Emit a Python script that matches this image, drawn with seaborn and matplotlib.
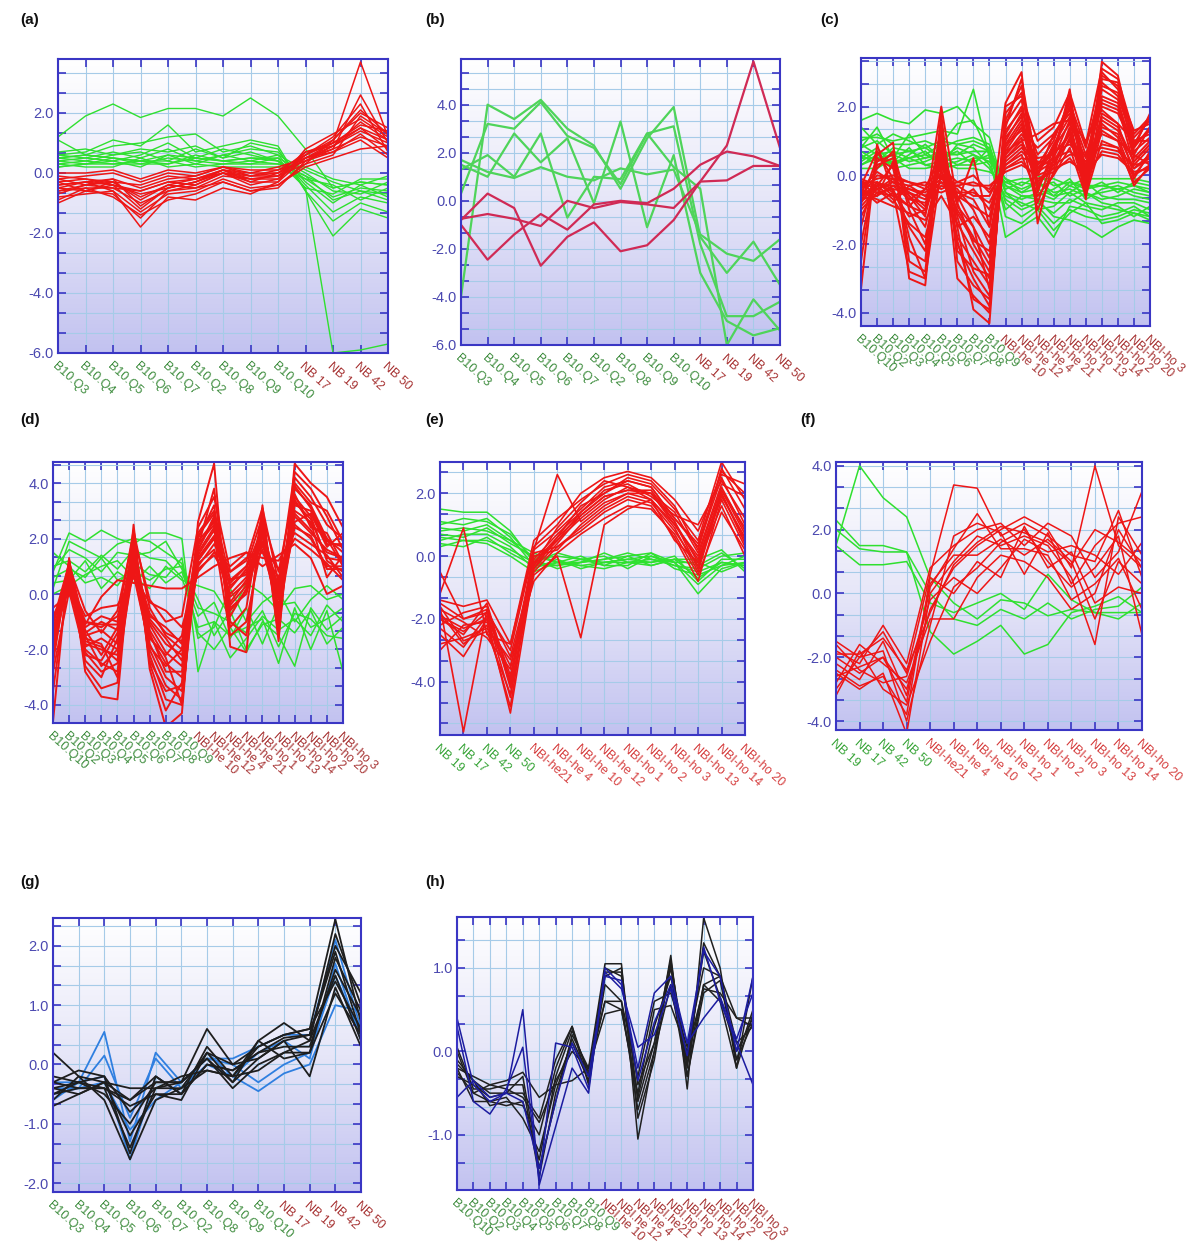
import numpy as np
import pandas as pd
import matplotlib
matplotlib.use('Agg')
import matplotlib.pyplot as plt
from matplotlib.ticker import MultipleLocator, FormatStrFormatter
from matplotlib.colors import LinearSegmentedColormap
import seaborn as sns

sns.set_theme(style='white')
plt.rcParams['font.family'] = ['Liberation Sans', 'DejaVu Sans']

# ---------------- categories ----------------
CATS_13 = ['B10.Q3', 'B10.Q4', 'B10.Q5', 'B10.Q6', 'B10.Q7', 'B10.Q2', 'B10.Q8',
           'B10.Q9', 'B10.Q10', 'NB 17', 'NB 19', 'NB 42', 'NB 50']
CATS_19 = ['B10.Q10', 'B10.Q2', 'B10.Q3', 'B10.Q4', 'B10.Q5', 'B10.Q6', 'B10.Q7',
           'B10.Q8', 'B10.Q9', 'NBI-he 10', 'NBI-he 12', 'NBI-he 4', 'NBI-he 21',
           'NBI-ho 1', 'NBI-ho 13', 'NBI-ho 14', 'NBI-ho 2', 'NBI-ho 20', 'NBI-ho 3']
CATS_19H = ['B10.Q10', 'B10.Q2', 'B10.Q3', 'B10.Q4', 'B10.Q5', 'B10.Q6', 'B10.Q7',
            'B10.Q8', 'B10.Q9', 'NBI.he 10', 'NBI.he 12', 'NBI.he 4', 'NBI.he21',
            'NBI.ho 1', 'NBI.ho 13', 'NBI.ho 14', 'NBI.ho 2', 'NBI.ho 20', 'NBI.ho 3']
CATS_14 = ['NB 19', 'NB 17', 'NB 42', 'NB 50', 'NBI-he21', 'NBI-he 4', 'NBI-he 10',
           'NBI-he 12', 'NBI-ho 1', 'NBI-ho 2', 'NBI-ho 3', 'NBI-ho 13', 'NBI-ho 14',
           'NBI-ho 20']

# ---------------- panel (a) ----------------
A_GREEN = [
    [1.2, 1.9, 2.3, 1.85, 2.15, 2.15, 1.9, 2.5, 1.9, 0.8, -0.5, -0.3, -0.4],
    [1.1, 0.6, 0.5, 0.4, 0.6, 0.5, 0.4, 0.5, 0.5, -0.5, -6.0, -5.9, -5.7],
    [0.6, 0.7, 1.1, 0.9, 1.6, 0.7, 0.9, 1.1, 0.9, -0.6, -2.1, -1.2, -1.5],
    [0.5, 0.6, 0.9, 1.0, 1.2, 1.3, 0.7, 0.9, 0.6, -0.4, -1.3, -0.8, -1.0],
    [0.4, 0.5, 0.4, 0.6, 1.0, 0.5, 0.8, 0.6, 0.4, -0.2, -0.8, -0.5, -0.6],
    [0.3, 0.4, 0.3, 0.3, 0.5, 0.4, 0.3, 0.4, 0.3, -0.1, -0.5, -0.3, -0.4],
    [0.2, 0.3, 0.5, 0.4, 0.3, 0.6, 0.4, 0.3, 0.5, 0.0, -0.6, -0.7, -0.3],
    [0.6, 0.5, 0.7, 0.5, 0.8, 0.4, 0.6, 0.8, 0.7, -0.3, -1.0, -0.4, -0.8],
    [0.3, 0.2, 0.2, 0.5, 0.2, 0.3, 0.2, 0.2, 0.2, -0.2, -0.4, -0.9, -0.5],
    [0.5, 0.4, 0.6, 0.7, 0.4, 0.8, 0.5, 0.7, 0.4, -0.5, -0.7, -0.2, -0.2],
    [0.4, 0.3, 0.4, 0.2, 0.6, 0.3, 0.6, 0.4, 0.6, 0.1, -0.3, -0.6, -0.9],
    [0.7, 0.8, 0.6, 0.8, 0.7, 0.9, 0.5, 1.0, 0.8, -0.6, -1.6, -1.0, -1.3],
    [0.2, 0.3, 0.3, 0.4, 0.4, 0.2, 0.3, 0.3, 0.3, 0.2, -0.2, -0.4, -0.1],
    [0.5, 0.6, 0.5, 0.3, 0.3, 0.5, 0.4, 0.5, 0.4, -0.1, -0.9, -0.6, -0.7],
]
A_RED = [
    [-0.5, -0.3, -0.6, -1.8, -0.8, -0.9, -0.5, -0.7, -0.3, 0.5, 1.0, 3.7, 1.2],
    [-1.0, -0.6, -0.7, -1.5, -0.6, -0.5, -0.3, -0.6, -0.5, 0.4, 0.8, 2.6, 1.0],
    [-0.3, -0.2, -0.4, -1.2, -0.5, -0.3, 0.0, -0.2, -0.1, 0.6, 1.1, 2.0, 1.5],
    [-0.2, -0.4, -0.3, -0.9, -0.4, -0.2, 0.1, -0.1, 0.0, 0.5, 0.9, 1.7, 1.1],
    [-0.6, -0.5, -0.5, -0.6, -0.3, -0.4, 0.0, -0.4, -0.2, 0.7, 1.0, 1.5, 0.8],
    [-0.4, -0.3, -0.2, -0.5, -0.2, -0.1, 0.2, -0.1, 0.1, 0.4, 0.7, 1.3, 0.6],
    [0.0, 0.0, 0.1, -0.2, 0.1, 0.0, 0.2, 0.0, 0.2, 0.5, 0.8, 1.2, 0.9],
    [-0.8, -0.7, -0.6, -1.3, -0.7, -0.6, -0.2, -0.5, -0.4, 0.3, 0.6, 1.9, 1.3],
    [-0.3, -0.6, -0.4, -0.7, -0.5, -0.3, 0.1, -0.2, -0.1, 0.6, 1.2, 2.3, 0.7],
    [-0.1, -0.2, -0.3, -0.4, -0.1, -0.2, 0.1, 0.0, 0.0, 0.4, 0.9, 1.4, 1.0],
    [-0.7, -0.4, -0.5, -1.0, -0.6, -0.4, 0.0, -0.3, -0.3, 0.8, 1.3, 1.8, 1.2],
    [-0.5, -0.6, -0.3, -0.8, -0.4, -0.5, -0.1, -0.2, -0.2, 0.5, 0.7, 1.1, 0.5],
    [-0.2, -0.1, 0.0, -0.3, 0.0, -0.1, 0.2, 0.1, 0.1, 0.6, 1.0, 1.6, 1.4],
    [-0.9, -0.5, -0.8, -1.4, -0.9, -0.7, -0.3, -0.6, -0.4, 0.2, 0.5, 0.8, 0.9],
    [-0.4, -0.3, -0.4, -0.6, -0.3, -0.2, 0.0, -0.1, -0.1, 0.3, 1.1, 2.1, 1.3],
    [-0.6, -0.4, -0.2, -1.1, -0.5, -0.3, 0.1, -0.3, 0.0, 0.7, 0.9, 1.5, 1.1],
]

# ---------------- panel (b) ----------------
B_GREEN = [
    [1.7, 1.2, 0.95, 1.4, 1.0, 0.85, 1.35, 1.1, 1.3, -1.4, -2.2, -2.5, -1.6],
    [-4.0, 4.0, 3.4, 4.2, 3.0, 2.3, 0.5, 2.6, 3.9, -1.5, -3.0, -1.7, -3.5],
    [0.3, 3.2, 3.0, 4.1, 2.7, 2.2, 0.7, 2.8, 3.1, -1.8, -4.8, -4.8, -4.2],
    [1.5, 1.0, 2.8, 1.6, 2.6, -0.1, 3.3, -1.1, 1.9, -3.0, -5.0, -5.6, -5.3],
    [1.3, 1.9, 1.0, 2.8, -0.7, 1.0, 0.9, 2.8, 1.4, 0.5, -6.0, -4.1, -5.4],
]
B_RED = [
    [-0.8, 0.3, -0.3, -2.7, -1.5, -0.9, -2.1, -1.85, -0.8, 0.8, 2.3, 5.8, 2.2],
    [-1.0, -2.45, -1.4, -0.55, -1.2, -0.15, 0.0, -0.1, 0.5, 1.5, 2.05, 1.85, 1.45],
    [-0.75, -0.55, -0.75, -1.05, 0.0, -0.3, -0.05, -0.15, -0.3, 0.8, 0.85, 1.45, 1.45],
]

# ---------------- panel (c) ----------------
C_GREEN = [
    [1.6, 1.8, 1.6, 1.5, 1.9, 1.8, 2.0, 1.5, 1.1, -0.5, -0.9, -0.7, -1.2, -1.3, -1.5, -1.8, -1.5, -1.3, -1.4],
    [1.1, 1.1, 1.0, 1.1, 1.2, 1.3, 1.2, 2.5, 0.5, -0.3, -0.5, -0.4, -0.6, -0.5, -0.8, -0.9, -1.0, -1.1, -1.3],
    [0.8, 1.4, 0.5, 1.2, 0.6, 0.9, 1.5, 1.6, 0.6, -1.8, -1.5, -1.2, -1.8, -0.9, -1.0, -1.2, -1.1, -0.9, -1.2],
    [0.5, 0.8, 0.3, 0.6, 0.9, 0.5, 0.8, 0.6, 0.4, -0.2, -0.4, -0.2, -0.5, -0.4, -0.6, -0.5, -0.4, -0.6, -0.7],
    [0.3, 0.5, 0.6, 0.4, 0.5, 0.7, 0.6, 0.9, 0.7, -0.5, -0.7, -0.5, -0.7, -0.3, -0.5, -0.7, -0.6, -0.4, -0.5],
    [0.6, 0.3, 0.4, 0.8, 0.3, 0.4, 0.5, 0.4, 0.6, -0.1, -0.3, 0.0, -0.3, -0.2, -0.3, -0.3, -0.2, -0.3, -0.4],
    [0.9, 0.6, 0.7, 0.5, 0.7, 0.3, 0.9, 0.8, 0.3, -0.7, -1.0, -0.8, -1.1, -0.7, -0.9, -1.0, -0.8, -0.8, -1.0],
    [0.4, 0.7, 0.2, 0.3, 0.4, 0.6, 0.3, 0.5, 0.5, -0.4, -0.2, -0.3, -0.2, -0.6, -0.4, -0.2, -0.5, -0.2, -0.3],
    [0.7, 0.4, 0.8, 0.7, 0.8, 0.5, 0.7, 0.3, 0.8, -0.3, -0.6, -0.6, -0.4, -0.1, -0.7, -0.4, -0.3, -0.5, -0.6],
    [0.2, 0.2, 0.5, 0.2, 0.2, 0.3, 0.4, 0.6, 0.2, -0.6, -0.8, -1.0, -0.9, -0.5, -0.2, -0.6, -0.7, -0.7, -0.8],
    [1.0, 1.2, 0.9, 0.9, 1.0, 0.8, 1.0, 1.1, 0.9, -0.8, -1.2, -0.9, -1.4, -1.0, -1.2, -1.3, -1.2, -1.0, -1.1],
    [0.5, 0.5, 0.4, 0.5, 0.6, 0.4, 0.2, 0.2, 0.1, -0.2, -0.1, -0.1, -0.1, -0.3, -0.1, -0.1, -0.1, -0.1, -0.2],
    [0.8, 1.0, 0.6, 0.7, 0.5, 0.6, 0.6, 0.7, 0.7, -1.0, -0.6, -0.7, -0.8, -0.8, -0.5, -0.8, -0.9, -1.2, -0.9],
    [0.3, 0.6, 0.3, 0.5, 0.3, 0.2, 0.3, 0.3, 0.4, -0.1, -0.5, -0.2, -0.6, -0.2, -0.4, -0.3, -0.4, -0.3, -0.5],
    [1.4, 0.9, 1.2, 1.0, 0.8, 1.0, 0.9, 1.0, 0.8, -1.2, -1.4, -1.0, -1.6, -1.1, -0.8, -1.4, -1.3, -1.1, -1.2],
]
C_RED = [
    [-3.3, 0.9, -0.5, -1.2, -1.0, 2.0, -0.8, 0.5, -1.5, 2.1, 3.0, -1.4, 0.5, 2.5, -0.7, 3.3, 2.9, 0.8, 1.8],
    [-2.5, 0.6, 0.95, -3.0, -3.2, 1.5, -1.5, -3.9, -4.3, 1.8, 2.4, 0.3, 1.0, 2.2, 0.2, 3.0, 2.5, 1.3, 1.5],
    [-1.5, 0.3, 0.5, -2.5, -2.8, 1.2, -3.0, -3.5, -4.0, 1.5, 2.2, -0.5, 0.8, 2.0, -0.3, 2.8, 2.7, 1.0, 1.2],
    [-0.8, 0.5, 0.2, -1.8, -3.0, 1.0, -2.0, -3.0, -3.8, 1.2, 2.0, 0.0, 1.2, 1.8, 0.0, 2.5, 2.2, 0.5, 1.0],
    [-0.5, 0.2, 0.7, -1.0, -2.0, 0.8, -1.2, -2.8, -3.5, 1.0, 1.8, -0.8, 0.5, 1.6, -0.5, 2.2, 2.0, 0.3, 0.8],
    [-0.6, -0.3, 0.3, -0.8, -1.5, 0.5, -1.8, -2.5, -3.2, 0.9, 1.6, 0.2, 0.8, 1.5, 0.5, 2.0, 1.8, 0.8, 1.4],
    [-0.4, 0.1, -0.2, -0.6, -1.0, 0.3, -0.8, -2.0, -2.8, 0.7, 1.4, -0.3, 0.3, 1.3, -0.2, 1.8, 1.5, 0.0, 0.6],
    [-0.3, -0.5, -0.4, -0.5, -0.7, 0.1, -0.6, -1.5, -2.4, 0.6, 1.2, 0.5, 0.6, 1.2, 0.3, 1.6, 1.3, 0.4, 0.9],
    [-0.2, -0.2, -0.6, -0.4, -0.5, -0.1, -0.4, -1.0, -2.0, 0.5, 1.0, 0.1, 0.4, 1.0, 0.1, 1.4, 1.2, 0.2, 0.5],
    [-0.7, -0.6, -0.3, -0.7, -0.8, -0.3, -0.5, -0.7, -1.5, 0.8, 1.5, -0.2, 0.2, 1.4, -0.4, 1.5, 1.1, -0.1, 0.7],
    [-0.9, -0.4, -0.8, -0.3, -0.6, -0.2, -0.7, -0.4, -1.0, 0.4, 0.8, 0.3, 0.7, 0.9, 0.4, 1.2, 1.0, 0.6, 0.3],
    [-0.4, -0.8, -0.5, -0.9, -0.4, -0.5, -0.3, -0.6, -0.6, 0.3, 0.6, -0.6, 0.0, 0.8, -0.6, 1.0, 0.8, -0.2, 0.2],
    [-1.2, -0.3, -0.7, -1.4, -1.8, 0.0, -1.0, -1.8, -2.6, 1.1, 1.7, 0.0, 0.9, 1.7, 0.2, 2.3, 2.1, 0.7, 1.1],
    [-0.3, -0.1, 0.0, -0.2, -0.3, 0.2, -0.2, 0.0, -0.5, 0.2, 0.5, 0.4, 0.3, 0.6, 0.6, 0.8, 0.7, 0.3, 0.4],
    [-0.5, -0.7, -0.9, -1.1, -1.3, -0.6, -1.4, -2.2, -3.0, 1.3, 1.9, 0.6, 1.1, 2.1, 0.8, 2.6, 2.4, 1.1, 1.6],
    [-2.0, 0.4, 0.6, -2.2, -2.5, 1.8, -2.5, -3.2, -3.6, 2.0, 2.3, 1.0, 1.4, 2.4, 0.9, 3.1, 2.8, 1.2, 1.7],
    [-0.6, 0.0, -0.1, -0.5, -0.9, 0.6, -1.5, -1.2, -1.8, 0.6, 1.1, -1.0, 0.1, 1.1, -0.5, 1.3, 1.0, -0.3, 0.3],
    [-0.2, -0.4, -0.2, -0.3, -0.2, -0.4, -0.2, -0.3, -0.3, 0.1, 0.3, 0.0, 0.2, 0.4, 0.1, 0.6, 0.5, 0.1, 0.2],
    [-0.8, -0.2, -0.4, -1.5, -2.2, 0.9, -0.9, -1.5, -3.3, 0.9, 1.3, 0.8, 1.2, 1.9, 0.6, 2.1, 1.9, 0.9, 1.3],
    [-0.4, -0.6, 0.4, -0.6, -1.2, 1.4, -2.2, -2.7, -2.9, 1.6, 2.6, -0.4, 0.6, 2.2, -0.1, 2.9, 2.6, 0.6, 1.4],
    [-0.1, -0.3, -0.3, -0.4, -0.6, -0.2, -0.3, -0.2, -0.4, 0.3, 0.7, 0.2, 0.5, 0.7, 0.3, 0.9, 0.8, 0.2, 0.6],
    [-1.0, -0.5, -0.6, -0.9, -1.1, 0.4, -1.1, -1.9, -2.2, 0.7, 1.0, 1.2, 1.5, 1.6, 1.0, 1.9, 1.5, 1.0, 1.0],
    [-0.3, 0.7, -0.1, -0.7, -0.4, 0.7, -0.6, -0.9, -1.2, 0.5, 0.9, -0.2, 0.4, 1.2, -0.3, 1.7, 1.4, 0.4, 0.9],
    [-0.7, -0.2, -0.5, -2.8, -3.0, 0.2, -1.9, -3.6, -3.9, 1.4, 2.8, 0.1, 0.7, 2.3, 0.0, 2.7, 2.3, 0.9, 1.7],
    [-0.5, -0.4, -0.1, -0.2, -0.4, 0.0, -0.5, -0.5, -0.8, 0.2, 0.4, -0.1, 0.1, 0.5, -0.1, 0.7, 0.6, 0.0, 0.3],
]

# ---------------- panel (d) ----------------
D_GREEN = [
    [0.8, 2.2, 1.9, 2.3, 2.0, 1.8, 2.2, 2.2, 2.0, -2.8, -1.0, -1.5, -1.2, -0.9, -2.5, -0.5, -2.0, -0.6, -2.8],
    [0.2, 1.9, 1.6, 1.3, 1.8, 2.0, 1.9, 1.5, 1.1, -1.4, -2.0, -1.2, -2.1, -1.0, -1.5, -2.6, -0.5, -1.3, -0.8],
    [1.0, 1.2, 0.8, 1.4, 0.9, 1.6, 1.3, 1.2, 0.6, -1.2, -1.0, -2.3, -1.6, -0.8, -1.3, -0.9, -1.5, -0.4, -1.0],
    [0.6, 0.9, 0.6, 1.3, 0.5, 0.8, 0.5, 0.9, 1.0, -0.2, -1.5, -0.6, -2.0, -1.1, -0.9, -1.4, -0.6, -1.8, -1.2],
    [0.4, 0.5, 1.2, 0.2, 0.8, 0.4, 1.0, 0.4, 0.8, -0.8, -0.3, -1.6, -0.5, -1.8, -0.4, -0.3, -1.2, -0.9, -0.5],
    [1.5, 1.0, 0.4, 0.6, 0.3, 1.1, 0.7, 0.6, 1.3, -1.6, -1.2, 0.2, -1.0, -0.3, 0.1, -1.0, -0.2, 0.3, -0.2],
    [0.0, 0.3, 0.7, 1.0, 1.2, 0.6, 0.2, 1.0, 0.5, 0.3, 0.1, -0.8, 0.4, 0.0, -0.6, 0.2, 0.3, -0.2, 0.0],
    [0.9, 1.6, 1.3, 0.8, 1.5, 1.4, 1.5, 1.9, 0.9, -0.5, -0.7, -1.0, -1.4, -0.6, -1.9, -0.7, -0.9, -1.5, -1.6],
]
D_RED = [
    [-4.6, 1.3, -2.8, -3.7, -3.8, 2.5, -2.7, -4.8, -4.3, 2.6, 4.7, -1.9, -2.1, 3.2, -1.7, 4.7, 4.0, 3.5, 2.4],
    [-1.0, 1.1, -1.2, -0.8, -1.0, 2.3, -0.5, -1.5, -2.0, 2.2, 3.0, 0.5, 1.0, 2.8, 0.8, 3.8, 3.2, 2.0, 1.5],
    [-2.0, 0.8, -2.0, -2.5, -2.8, 1.8, -1.8, -3.0, -3.5, 1.8, 2.5, -0.8, 0.2, 2.5, -1.0, 3.5, 2.8, 1.2, 0.8],
    [-1.3, 0.5, -1.0, -1.2, -0.8, 1.0, -0.8, -1.2, -1.8, 1.2, 2.0, 0.3, 0.8, 1.8, 0.3, 2.8, 2.2, 1.6, 1.3],
    [-1.8, 1.0, -1.8, -2.0, -2.2, 1.5, -1.5, -2.5, -3.0, 1.6, 2.8, -0.3, 0.5, 2.2, -0.5, 3.2, 3.0, 1.8, 1.8],
    [-1.2, 0.2, -1.4, -1.0, -1.3, 0.8, -1.0, -1.8, -2.2, 1.0, 1.8, 0.8, 1.3, 1.5, 0.6, 2.5, 2.0, 1.0, 1.0],
    [-1.6, 0.6, -2.4, -3.0, -1.6, 2.0, -2.2, -3.8, -4.0, 2.0, 3.2, -1.2, -0.5, 3.0, -1.3, 4.2, 3.5, 2.5, 2.0],
    [-0.8, 0.4, -0.8, -0.5, -0.4, 0.6, -0.3, -0.6, -1.2, 0.8, 1.5, 1.0, 1.5, 1.3, 1.2, 2.2, 1.8, 1.4, 0.6],
    [-2.5, 1.2, -1.6, -1.8, -3.0, 1.3, -1.4, -2.8, -2.8, 1.4, 2.3, -0.5, 0.0, 2.1, -0.2, 3.0, 2.6, 0.6, 1.4],
    [-1.4, 0.9, -1.3, -2.2, -1.2, 1.7, -1.6, -2.2, -1.5, 1.9, 2.6, 0.2, 0.9, 2.4, 0.0, 3.6, 2.4, 2.2, 1.1],
    [-3.5, 0.7, -2.1, -2.8, -2.5, 0.9, -2.0, -3.3, -3.8, 1.3, 2.1, -1.5, -1.0, 1.9, -0.8, 2.6, 2.9, 1.7, 2.2],
    [-1.1, 1.0, -0.6, -1.4, -0.6, 2.1, -0.2, -1.0, -0.8, 2.4, 3.5, 0.8, 1.2, 3.1, 0.4, 4.4, 3.8, 2.8, 1.6],
    [-1.7, 0.3, -1.9, -1.6, -2.0, 1.1, -1.1, -2.1, -2.6, 1.1, 1.6, -0.1, 0.4, 1.6, -0.4, 2.4, 2.1, 0.9, 0.9],
    [-0.5, 0.0, -1.1, -0.1, 0.5, 0.4, 0.3, 0.2, 0.2, 0.6, 1.0, 1.3, 1.5, 1.0, 1.4, 1.8, 1.3, 0.0, 0.3],
    [-2.2, 1.1, -2.6, -3.4, -3.2, 2.2, -2.5, -4.2, -3.2, 1.7, 3.8, -1.0, -1.5, 2.7, -1.5, 4.0, 3.3, 3.0, 1.9],
    [-1.5, 0.6, -1.5, -1.3, -1.8, 1.4, -0.9, -1.6, -2.4, 1.5, 2.4, 0.5, 0.7, 2.3, 0.2, 3.3, 2.7, 1.3, 1.2],
    [-2.8, 0.1, -2.2, -2.4, -1.4, 0.7, -1.9, -2.6, -2.0, 0.9, 1.4, 0.4, 1.0, 1.7, 0.9, 2.0, 1.6, 1.1, 0.5],
    [-1.9, 1.2, -1.7, -1.9, -2.4, 1.9, -1.3, -2.3, -4.0, 2.1, 2.9, -0.6, 0.1, 2.6, -0.6, 3.9, 3.1, 1.9, 1.7],
    [-1.0, 0.4, -1.0, -1.1, -1.1, 1.2, -0.7, -1.4, -1.7, 1.3, 2.0, 0.0, 0.6, 1.9, -0.1, 2.9, 2.3, 1.5, 1.3],
    [-2.3, 0.9, -1.5, -2.6, -2.0, 1.6, -2.4, -3.5, -3.3, 1.6, 2.7, -0.4, 0.3, 2.2, -0.9, 3.4, 2.5, 2.0, 1.0],
]

# ---------------- panel (e) ----------------
E_GREEN = [
    [1.5, 1.4, 1.4, 0.8, -0.2, -0.3, -0.1, -0.2, -0.1, 0.0, -0.3, -0.5, -0.2, -0.3],
    [1.1, 1.0, 1.2, 0.6, -0.3, -0.2, -0.3, -0.4, -0.2, -0.1, -0.2, -1.2, -0.4, -0.2],
    [0.9, 0.8, 1.0, 0.5, -0.1, -0.4, -0.2, -0.1, 0.0, -0.3, -0.1, -0.3, 0.1, -0.4],
    [0.7, 0.6, 0.9, 0.4, 0.0, -0.2, 0.0, -0.3, -0.3, 0.1, -0.4, -0.6, -0.3, 0.0],
    [0.5, 0.7, 0.7, 0.3, -0.4, -0.1, -0.4, -0.2, -0.1, -0.2, 0.0, -0.8, -0.1, -0.1],
    [0.6, 0.5, 0.5, 0.2, -0.2, 0.1, -0.1, 0.0, -0.4, 0.0, -0.2, -0.2, -0.5, -0.2],
    [0.4, 0.3, 0.6, 0.1, -0.3, -0.3, -0.2, -0.1, 0.1, -0.1, -0.3, -0.4, 0.0, 0.1],
    [0.8, 0.9, 0.8, 0.5, 0.1, -0.2, -0.3, -0.2, -0.2, -0.2, -0.1, -0.7, -0.2, -0.3],
    [1.0, 1.2, 1.1, 0.7, -0.1, 0.0, -0.1, -0.3, 0.0, 0.1, -0.2, -0.9, -0.3, -0.2],
    [0.3, 0.5, 0.4, 0.0, -0.5, -0.2, -0.2, 0.1, -0.2, -0.3, -0.1, -0.1, 0.2, -0.5],
]
E_RED = [
    [-1.5, -2.0, -1.8, -3.0, 0.2, 0.8, 1.5, 2.2, 2.4, 2.2, 1.2, 0.3, 2.5, 1.0],
    [-2.0, -2.5, -1.5, -4.0, -0.3, 0.5, 1.2, 1.8, 2.2, 1.8, 0.9, -0.5, 2.0, 0.5],
    [-1.8, -2.8, -2.2, -4.8, 0.0, 0.2, 1.0, 1.6, 2.0, 2.0, 1.0, 0.0, 2.2, 0.8],
    [-2.5, -3.2, -2.0, -3.5, -0.5, 0.3, 0.8, 1.4, 1.8, 1.6, 0.6, -0.8, 1.8, 0.3],
    [-1.6, -5.6, -1.7, -3.8, -0.2, 0.6, 1.6, 2.0, 2.5, 2.3, 1.5, 0.5, 3.0, 1.8],
    [-1.2, 0.9, -2.5, -2.8, 0.3, 1.0, 2.0, 2.5, 2.7, 2.5, 1.8, 0.8, 2.6, 2.3],
    [-2.2, -1.8, -1.6, -4.2, -0.6, 0.0, -2.6, 1.0, 1.5, 1.8, 0.5, -0.2, 1.6, 0.0],
    [-1.9, -2.3, -2.0, -5.0, -0.4, 0.4, 1.3, 1.9, 2.1, 2.1, 1.1, -0.4, 2.1, 0.7],
    [-2.8, -2.6, -2.3, -3.3, -0.8, 0.1, 0.7, 1.2, 1.6, 1.5, 0.7, -0.6, 1.4, 0.2],
    [-1.4, -1.6, -1.4, -2.8, 0.5, 1.2, 1.8, 2.3, 2.6, 2.4, 1.6, 0.2, 2.8, 1.5],
    [-2.3, -2.9, -1.9, -4.5, -0.1, 0.7, 1.4, 2.1, 2.3, 1.9, 1.3, 1.0, 2.4, 1.2],
    [-1.7, -2.1, -2.6, -3.6, 0.1, 0.3, 0.9, 1.5, 1.9, 1.7, 0.8, -0.3, 1.9, 0.6],
    [-0.5, -2.0, -1.7, -3.2, -0.3, 0.9, 1.7, 2.4, 2.2, 2.0, 1.4, 0.1, 2.3, 1.9],
    [-2.0, -2.4, -1.8, -4.1, 0.2, 2.6, 1.1, 1.7, 2.0, 1.8, 1.0, -0.1, 2.0, 0.4],
    [-3.0, -2.2, -2.1, -3.9, -0.2, 0.5, 1.4, 2.0, 2.4, 2.2, 1.2, 0.4, 2.7, 2.0],
    [-1.6, -2.7, -2.4, -4.4, -0.4, 0.6, 1.3, 1.9, 2.1, 2.0, 1.1, -0.2, 2.1, 0.9],
]

# ---------------- panel (f) ----------------
F_GREEN = [
    [1.5, 4.0, 3.0, 2.4, 0.5, -0.3, -0.8, -0.2, -0.3, -0.7, -0.5, -0.6, -0.6, -0.6],
    [2.3, 1.5, 1.5, 1.3, -1.2, -1.9, -1.5, -1.0, -1.9, -1.6, -0.6, -0.4, -0.1, -0.6],
    [1.5, 0.9, 0.9, 1.0, -0.3, -0.6, -0.3, 0.0, -0.5, 0.6, -0.2, -0.6, -0.8, -0.3],
    [2.0, 1.4, 1.3, 1.3, 0.0, -0.8, -1.0, -0.5, -0.8, -0.3, -0.8, -0.5, -0.4, 0.2],
]
F_RED = [
    [-1.5, -2.0, -1.2, -2.5, 0.6, 3.4, 3.3, 1.8, 2.2, 1.8, 1.2, 1.0, 2.6, 0.5],
    [-2.0, -2.5, -2.0, -3.0, -0.5, 0.8, 1.5, 2.0, 2.4, 2.0, 0.8, 4.0, 1.5, 0.8],
    [-2.5, -3.0, -2.5, -4.4, 0.0, 1.0, 1.8, 1.5, 1.8, 1.5, 0.5, -1.6, 2.4, 1.2],
    [-3.2, -1.8, -3.0, -3.5, -1.5, 0.2, 0.8, 1.6, 2.0, 1.0, 0.2, 0.8, 1.8, -1.3],
    [-1.8, -2.2, -1.0, -2.2, 0.8, 1.5, 2.0, 2.2, 1.5, 2.2, 1.8, 0.5, 1.3, 3.2],
    [-2.8, -1.6, -2.2, -2.8, -0.8, -0.8, 0.5, 1.2, 1.0, 0.5, -0.5, 0.0, 2.0, 0.8],
    [-2.2, -2.7, -1.5, -3.2, 0.3, 1.2, 1.2, 1.7, 1.2, 1.7, 1.0, -0.8, 1.0, 0.3],
    [-1.6, -2.4, -2.8, -2.6, -0.2, 0.5, 0.0, 0.8, 1.7, 1.3, 1.5, 1.2, 0.6, 1.6],
    [-3.0, -2.0, -1.8, -4.0, -1.0, 1.8, 2.2, 1.9, 0.6, 1.9, 0.3, 1.5, 2.2, 2.4],
    [-2.4, -2.9, -2.6, -3.8, 0.5, 0.0, 1.0, 0.5, 2.1, 0.8, 1.3, -0.3, 0.2, 0.0],
    [-1.9, -1.9, -1.4, -2.4, -0.6, 0.9, 1.6, 2.1, 1.9, 1.6, 0.9, 2.0, 1.6, 1.0],
    [-2.6, -2.3, -2.0, -3.4, 0.2, 1.4, 2.5, 1.4, 1.4, 1.2, -0.2, 0.3, 1.1, -0.5],
]

# ---------------- panel (g) ----------------
G_BLUE = [
    [-0.6, -0.3, 0.55, -1.3, 0.2, -0.3, 0.1, 0.1, 0.3, 0.5, 0.5, 2.1, 0.6],
    [-0.4, -0.4, 0.15, -0.9, 0.1, -0.4, 0.0, -0.2, -0.45, -0.15, 0.0, 1.0, 0.9],
    [-0.3, -0.3, -0.2, -1.6, -0.2, -0.5, 0.2, -0.2, 0.2, 0.4, 0.1, 1.7, 0.4],
    [-0.5, -0.4, -0.3, -1.1, -0.6, -0.3, 0.1, 0.0, -0.3, 0.0, 0.2, 1.5, 0.5],
]
G_BLACK = [
    [0.2, -0.2, -0.3, -0.6, -0.3, -0.3, 0.6, 0.0, 0.3, 0.5, 0.6, 2.45, 0.7],
    [-0.3, -0.1, -0.2, -1.5, -0.2, -0.5, 0.3, -0.2, 0.4, 0.7, 0.4, 2.2, 1.0],
    [-0.5, -0.4, -0.4, -1.4, -0.4, -0.4, 0.2, -0.3, 0.1, 0.4, 0.5, 1.9, 0.5],
    [-0.7, -0.5, -0.3, -1.2, -0.5, -0.5, 0.0, -0.1, 0.2, 0.3, 0.3, 1.6, 0.8],
    [-0.4, -0.3, -0.5, -1.0, -0.3, -0.3, 0.1, -0.4, 0.0, 0.2, 0.4, 1.5, 0.4],
    [-0.5, -0.3, -0.2, -0.8, -0.4, -0.2, -0.1, -0.2, 0.3, 0.5, 0.6, 1.4, 0.6],
    [-0.3, -0.4, -0.4, -0.7, -0.5, -0.6, 0.2, 0.0, 0.1, 0.4, -0.2, 1.3, 0.3],
    [-0.6, -0.2, -0.6, -1.6, -0.6, -0.4, -0.1, -0.2, -0.1, 0.2, 0.2, 1.8, 0.9],
    [-0.4, -0.5, -0.3, -0.4, -0.4, -0.3, 0.1, -0.3, 0.4, 0.1, 0.2, 1.2, 0.5],
    [-0.2, -0.3, -0.4, -0.6, -0.2, -0.5, 0.0, -0.1, 0.2, 0.45, 0.5, 2.0, 1.2],
]

# ---------------- panel (h) ----------------
H_BLUE = [
    [0.4, -0.4, -0.6, -0.5, 0.5, -1.6, -0.9, -0.2, -0.5, 1.0, 0.8, -0.2, 0.7, 0.9, 0.1, 1.2, 0.9, 0.0, 0.9],
    [0.3, -0.6, -0.75, -0.45, 0.05, -1.55, 0.1, 0.05, -0.45, 0.95, 0.75, 0.05, 0.2, 0.75, -0.05, 1.25, 0.6, 0.1, -0.4],
    [-0.55, -0.35, -0.55, -0.5, -0.6, -1.4, -0.6, 0.1, -0.3, 0.9, 0.85, -0.35, 0.35, 0.8, 0.1, 0.4, 0.65, 0.15, 0.7],
]
H_BLACK = [
    [-0.2, -0.3, -0.4, -0.35, -0.25, -0.55, -0.4, -0.35, -0.2, 1.05, 1.05, -1.05, 0.0, 1.15, -0.45, 1.6, 1.0, -0.2, 0.9],
    [-0.1, -0.35, -0.5, -0.5, -0.5, -0.8, -0.1, 0.3, -0.3, 0.9, 1.0, -0.6, 0.1, 1.0, -0.2, 1.3, 0.9, -0.1, 0.5],
    [0.0, -0.5, -0.6, -0.65, -0.6, -1.3, -0.3, 0.25, -0.25, 0.6, 0.6, -0.7, 0.0, 0.8, -0.3, 0.8, 0.9, 0.4, 0.3],
    [-0.3, -0.4, -0.55, -0.5, -0.3, -1.4, -0.6, 0.2, -0.2, 0.45, 0.5, -0.5, 0.5, 0.55, 0.0, 0.75, 0.7, 0.4, 0.4],
    [-0.2, -0.6, -0.6, -0.55, -0.8, -1.2, -0.4, 0.1, -0.35, 0.95, 0.95, -0.8, -0.1, 1.05, -0.1, 1.2, 0.65, 0.0, 0.4],
    [0.05, -0.45, -0.45, -0.4, -0.4, -1.5, -0.5, 0.15, -0.3, 1.0, 0.9, -0.4, 0.1, 1.1, -0.3, 0.7, 0.85, -0.1, 0.35],
    [-0.15, -0.35, -0.65, -0.6, -0.65, -1.0, -0.2, 0.3, -0.4, 0.8, 0.6, -0.3, 0.6, 0.7, 0.05, 1.0, 0.9, 0.1, 0.3],
    [-0.25, -0.5, -0.4, -0.45, -0.55, -0.85, -0.35, 0.0, -0.2, 0.6, 0.5, -0.55, 0.3, 0.9, -0.15, 0.8, 0.6, -0.2, 0.45],
]

# ---------------- style ----------------
SPINE = '#3a36c4'
GRID = '#a6cbe8'
YLAB = '#4a48b0'
LBL_GREEN = '#3d8c3d'
LBL_RED = '#a83636'
LBL_GREEN2 = '#3aa53a'
LBL_RED2 = '#d64040'
LINE_GREEN = '#2fe02f'
LINE_RED = '#ee1616'
BG = LinearSegmentedColormap.from_list('bg', ['#ffffff', '#e6e6f8', '#c2c2f0'])

W, H = 1200, 1260
fig = plt.figure(figsize=(W / 100, H / 100), dpi=100)
fig.patch.set_facecolor('white')


def rect(l, t, r, b):
    return [l / W, 1 - b / H, (r - l) / W, (b - t) / H]


def to_long(lines):
    recs = []
    for i, line in enumerate(lines):
        for j, v in enumerate(line):
            recs.append((i, j, v))
    return pd.DataFrame(recs, columns=['line', 'x', 'v'])


def panel(box, tag, tagpos, labels, lab_colors, series, ylim, major):
    ax = fig.add_axes(rect(*box))
    grad = np.linspace(0, 1, 256).reshape(-1, 1)
    ax.imshow(grad, extent=[0, 1, 0, 1], transform=ax.transAxes, aspect='auto',
              cmap=BG, origin='upper', zorder=0)
    for lines, color, lw in series:
        sns.lineplot(data=to_long(lines), x='x', y='v', units='line', estimator=None,
                     color=color, lw=lw, ax=ax, legend=False, sort=False, zorder=3)
    n = len(labels)
    ax.set_xlim(0, n - 1)
    ax.set_ylim(*ylim)
    ax.set_xticks(range(n))
    ax.set_xticklabels(labels, rotation=-42, ha='left', va='top',
                       rotation_mode='anchor', fontsize=9)
    for t, c in zip(ax.get_xticklabels(), lab_colors):
        t.set_color(c)
    ax.yaxis.set_major_locator(MultipleLocator(major))
    ax.yaxis.set_minor_locator(MultipleLocator(major / 3))
    ax.yaxis.set_major_formatter(FormatStrFormatter('%.1f'))
    ax.tick_params(axis='x', which='major', direction='in', length=6, top=True,
                   bottom=True, color=SPINE, width=1.2, pad=5)
    ax.tick_params(axis='y', which='both', direction='in', length=6, left=True,
                   right=True, color=SPINE, width=1.2, labelcolor=YLAB,
                   labelsize=10.5, pad=3)
    ax.grid(True, which='both', color=GRID, lw=0.8)
    ax.set_axisbelow(True)
    for s in ax.spines.values():
        s.set_color(SPINE)
        s.set_linewidth(1.5)
        s.set_zorder(5)
    ax.set_xlabel('')
    ax.set_ylabel('')
    fig.text(tagpos[0] / W, 1 - tagpos[1] / H, tag, fontsize=11,
             fontweight='bold', ha='left', va='center', color='#111111')
    return ax


col13 = [LBL_GREEN] * 9 + [LBL_RED] * 4
col19 = [LBL_GREEN] * 9 + [LBL_RED] * 10
col14 = [LBL_GREEN2] * 4 + [LBL_RED2] * 10

panel((58, 59, 388, 353), '(a)', (20, 20), CATS_13, col13,
      [(A_GREEN, LINE_GREEN, 1.0), (A_RED, LINE_RED, 1.1)], (-6.0, 3.8), 2.0)
panel((461, 59, 780, 345), '(b)', (425, 20), CATS_13, col13,
      [(B_GREEN, '#4fd45a', 1.6), (B_RED, '#d02a55', 1.6)], (-6.0, 5.9), 2.0)
panel((861, 58, 1150, 326), '(c)', (820, 20), CATS_19, col19,
      [(C_GREEN, LINE_GREEN, 1.2), (C_RED, LINE_RED, 1.4)], (-4.38, 3.41), 2.0)
panel((53, 462, 343, 723), '(d)', (20, 420), CATS_19, col19,
      [(D_GREEN, LINE_GREEN, 1.1), (D_RED, LINE_RED, 1.4)], (-4.65, 4.76), 2.0)
panel((440, 462, 745, 735), '(e)', (425, 420), CATS_14, col14,
      [(E_GREEN, LINE_GREEN, 1.1), (E_RED, LINE_RED, 1.2)], (-5.7, 3.0), 2.0)
panel((836, 462, 1142, 730), '(f)', (800, 420), CATS_14, col14,
      [(F_GREEN, LINE_GREEN, 1.1), (F_RED, LINE_RED, 1.1)], (-4.28, 4.12), 2.0)
panel((53, 918, 361, 1192), '(g)', (20, 882), CATS_13, col13,
      [(G_BLUE, '#2f7fe0', 1.3), (G_BLACK, '#1e1e1e', 1.3)], (-2.15, 2.47), 1.0)
panel((457, 917, 753, 1190), '(h)', (425, 882), CATS_19H, col19,
      [(H_BLACK, '#202020', 1.1), (H_BLUE, '#1c1ca0', 1.1)], (-1.66, 1.61), 1.0)

fig.savefig('out.png', dpi=100, facecolor='white')
